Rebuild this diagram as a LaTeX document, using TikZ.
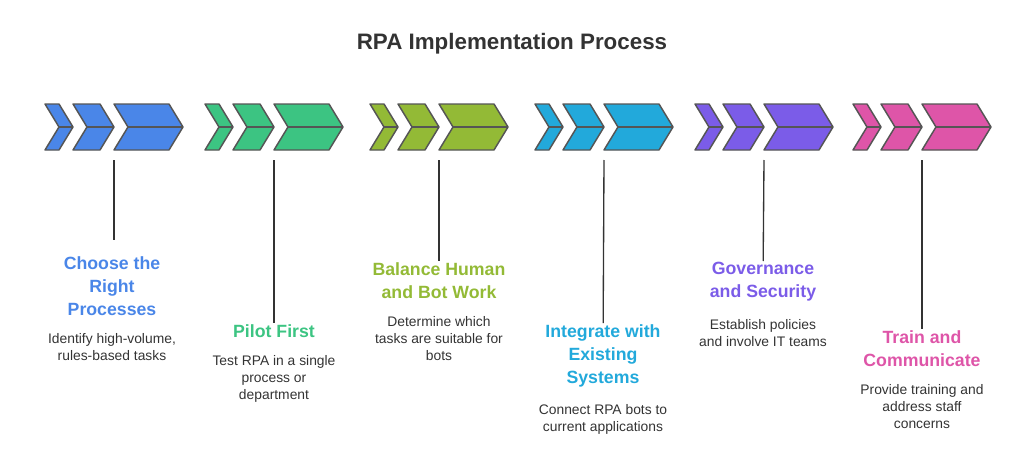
\documentclass[tikz,border=0pt]{standalone}
\usepackage{fontspec}
\setmainfont{Liberation Sans}
\usetikzlibrary{positioning}

\definecolor{cblue}{HTML}{4A86E8}
\definecolor{cgreen}{HTML}{3CC482}
\definecolor{colive}{HTML}{93BA36}
\definecolor{ccyan}{HTML}{22A9DB}
\definecolor{cpurple}{HTML}{7B5CE8}
\definecolor{cpink}{HTML}{DE55A8}
\definecolor{cedge}{HTML}{555555}
\definecolor{ctext}{HTML}{333333}

\begin{document}
\begin{tikzpicture}[
    x=0.0264cm, y=-0.0264cm,
    chev/.style={draw=cedge, line width=1.1pt, line join=round},
    stem/.style={draw=ctext, line width=1pt},
    head/.style={font=\fontsize{13.3}{17.25}\selectfont\bfseries, align=center, inner sep=1pt},
    desc/.style={font=\fontsize{10.4}{12.75}\selectfont, text=ctext, align=center, inner sep=1pt}
]
    \useasboundingbox (0,0) rectangle (1024,465);
    \node[font=\fontsize{16.8}{20}\selectfont\bfseries, text=ctext] (title) at (512,44) {RPA Implementation Process};

    % three chevrons per step
    \foreach \gx/\col/\n in {45/cblue/a, 205/cgreen/b, 370/colive/c, 535/ccyan/d, 695/cpurple/e, 853/cpink/f} {
        \foreach \cx/\w in {0/14, 28/27, 69/55} {
            \draw[chev, fill=\col] (\gx+\cx,104) -- (\gx+\cx+\w,104) -- (\gx+\cx+\w+14,127)
                -- (\gx+\cx+\w,150) -- (\gx+\cx,150) -- (\gx+\cx+14,127) -- cycle;
            \draw[chev] (\gx+\cx+14,127) -- (\gx+\cx+\w+14,127);
        }
        \coordinate (\n) at (\gx+69,160);
    }

    \node[head, text=cblue, anchor=north] (choose) at (112,255) {Choose the\\Right\\Processes};
    \node[desc, below=11pt of choose] (chooseDesc) {Identify high-volume,\\rules-based tasks};

    \node[head, text=cgreen, anchor=north] (pilot) at (274,323) {Pilot First};
    \node[desc, below=11pt of pilot] (pilotDesc) {Test RPA in a single\\process or\\department};

    \node[head, text=colive, anchor=north] (balance) at (439,261) {Balance Human\\and Bot Work};
    \node[desc, below=11pt of balance] (balanceDesc) {Determine which\\tasks are suitable for\\bots};

    \node[head, text=ccyan, anchor=north] (integrate) at (603,323) {Integrate with\\Existing\\Systems};
    \node[desc, below=11pt of integrate] (integrateDesc) {Connect RPA bots to\\current applications};

    \node[head, text=cpurple, anchor=north] (govern) at (763,261) {Governance\\and Security};
    \node[desc, below=11pt of govern] (governDesc) {Establish policies\\and involve IT teams};

    \node[head, text=cpink, anchor=north] (train) at (922,329) {Train and\\Communicate};
    \node[desc, below=11pt of train] (trainDesc) {Provide training and\\address staff\\concerns};

    \draw[stem] (a) -- ++(0,80);
    \draw[stem] (b) -- (pilot);
    \draw[stem] (c) -- (balance);
    \draw[stem] (d) -- (integrate);
    \draw[stem] (e) -- (govern);
    \draw[stem] (f) -- (train);
\end{tikzpicture}
\end{document}
